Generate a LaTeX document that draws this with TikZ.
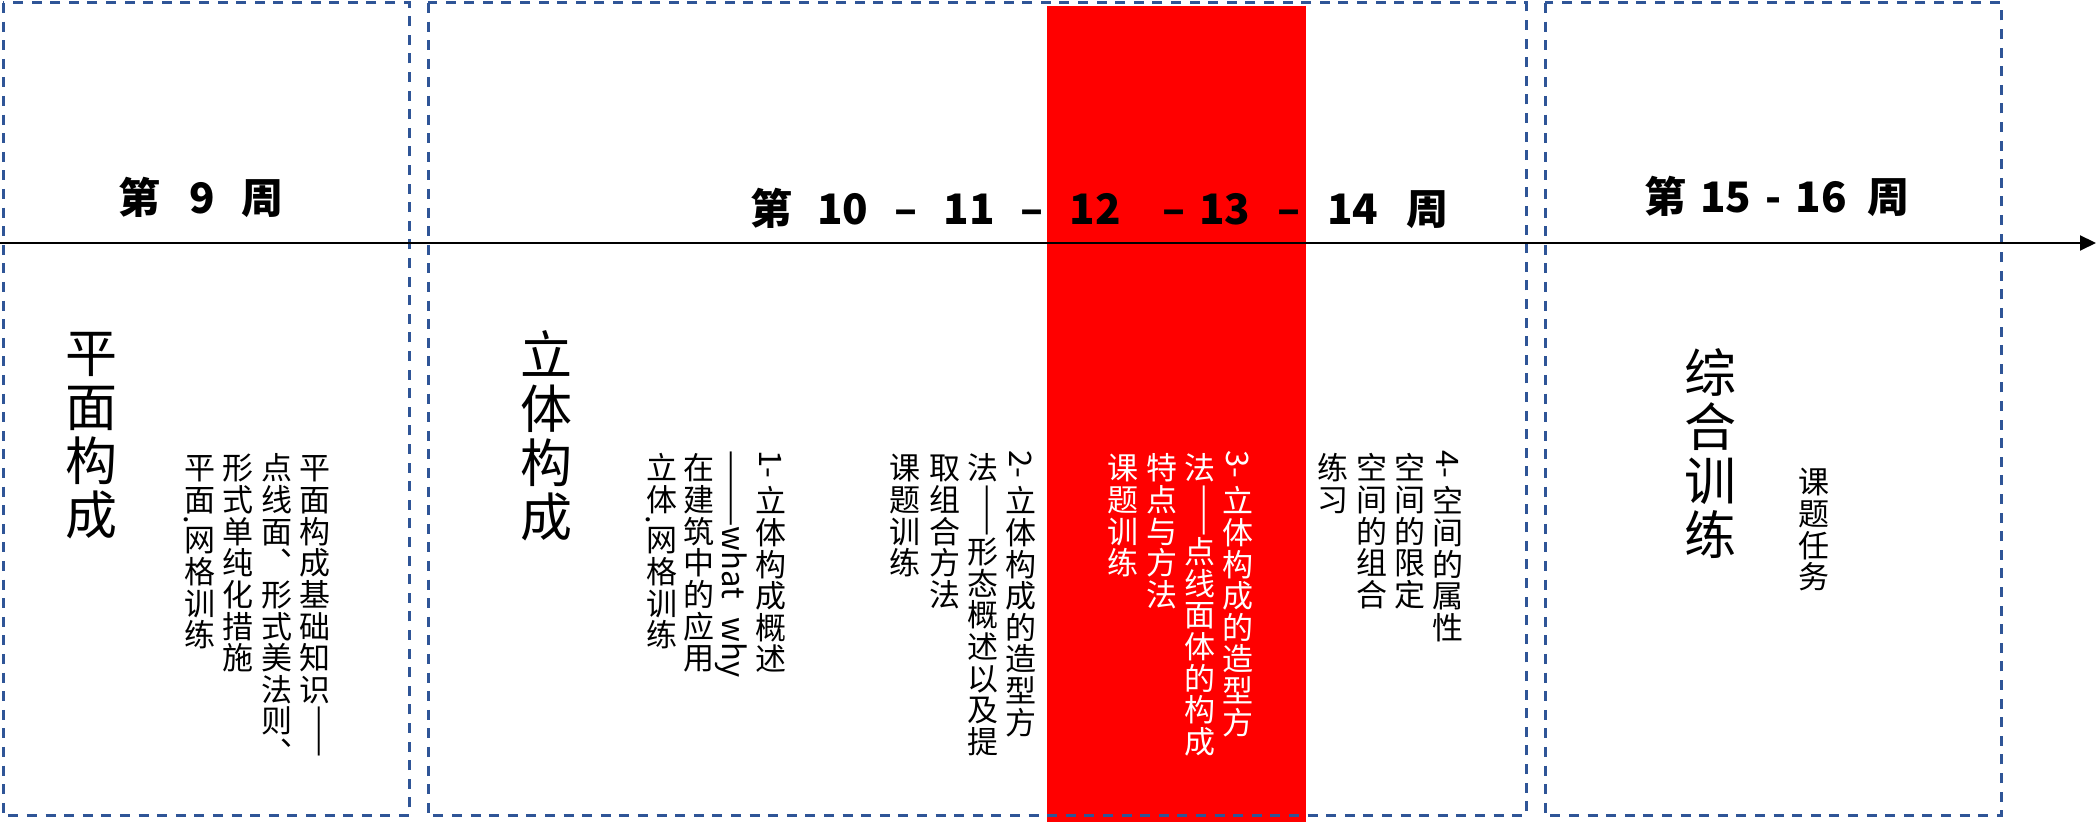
\documentclass[tikz,border=0pt]{standalone}
\usepackage{fontspec}
\setmainfont{Noto Sans CJK SC}
\usepackage{graphicx}
\usetikzlibrary{arrows.meta}
\definecolor{boxblue}{RGB}{47,85,151}
\newlength\pxu
\setlength\pxu{0.5pt}
\newcommand\hs[1]{\hspace*{#1\pxu}}
\def\cstrut{\vrule height .89em depth .13em width 0pt}
\newcommand\lat[1]{\rotatebox{-90}{#1}\let\cstrut\relax}
\newcommand\ldot{\lat{\vrule height 1.2em depth .2em width 0pt.}}
\newcommand\vcol[1]{\vbox{\offinterlineskip\foreach\ch in {#1}{\hbox to 1.2em{\hss\ch\cstrut\hss}}}}
\tikzset{
  dbox/.style={draw=boxblue, line width=1.5pt, dash pattern=on 5pt off 4.3pt},
  vtext/.style={anchor=north, inner sep=0pt, font=\fontsize{15.5pt}{16pt}\selectfont},
  vbig/.style={anchor=north, inner sep=0pt, font=\fontsize{26pt}{27pt}\selectfont\def\cstrut{\vrule height .9em depth .14em width 0pt}},
  wtitle/.style={inner sep=0pt, anchor=base west, font=\fontsize{21pt}{22pt}\selectfont\bfseries},
  axis/.style={draw=black, line width=1pt, -{Triangle[length=8pt,width=7.5pt]}}
}
\begin{document}
\begin{tikzpicture}[x=0.5pt,y=-0.5pt]
\useasboundingbox (0,0) rectangle (2100,822);
% highlighted weeks
\fill[red] (1047,6) rectangle (1306,822);
% dashed frames
\draw[dbox] (3,3) rectangle (409,816);
\draw[dbox] (428,3) rectangle (1526,816);
\draw[dbox] (1545,3) rectangle (2001,816);
% time axis
\coordinate (axl) at (0,243);
\coordinate (axr) at (2096,243);
\draw[axis] (axl) -- (axr);
% titles
\node[wtitle] (t1) at (118,214) {第\hs{29}9\hs{27}周};
\node[wtitle] (t2) at (750,225) {第\hs{25}10\hs{26}–\hs{26}11\hs{26}–\hs{26}12\hs{42}–\hs{13}13\hs{27}–\hs{27}14\hs{28}周};
\node[wtitle] (t3) at (1644,213) {第\hs{14}15\hs{14}-\hs{14}16\hs{21}周};
% big column titles
\node[vbig] (b1) at (91,325) {\vcol{平,面,构,成}};
\node[vbig] (b2) at (546,327) {\vcol{立,体,构,成}};
\node[vbig] (b3) at (1710,345) {\vcol{综,合,训,练}};
% group A
\node[vtext] (a1) at (315,452) {\vcol{平,面,构,成,基,础,知,识,\lat{——}}};
\node[vtext] (a2) at (277,452) {\vcol{点,线,面,︑,形,式,美,法,则,︑}};
\node[vtext] (a3) at (238,452) {\vcol{形,式,单,纯,化,措,施}};
\node[vtext] (a4) at (200,452) {\vcol{平,面,\ldot,网,格,训,练}};
% group B
\node[vtext] (c1) at (771,450) {\vcol{\lat{1- },立,体,构,成,概,述}};
\node[vtext] (c2) at (731,450) {\vcol{\lat{———what\hspace{.6em}why}}};
\node[vtext] (c3) at (699,452) {\vcol{在,建,筑,中,的,应,用}};
\node[vtext] (c4) at (662,452) {\vcol{立,体,\ldot,网,格,训,练}};
% group C
\node[vtext] (d1) at (1021,450) {\vcol{\lat{2- },立,体,构,成,的,造,型,方}};
\node[vtext] (d2) at (983,452) {\vcol{法,\lat{——},形,态,概,述,以,及,提}};
\node[vtext] (d3) at (945,452) {\vcol{取,组,合,方,法}};
\node[vtext] (d4) at (905,452) {\vcol{课,题,训,练}};
% group D (highlighted)
\begin{scope}[every node/.append style={text=white}]
\node[vtext] (e1) at (1238,450) {\vcol{\lat{3- },立,体,构,成,的,造,型,方}};
\node[vtext] (e2) at (1200,452) {\vcol{法,\lat{——},点,线,面,体,的,构,成}};
\node[vtext] (e3) at (1162,452) {\vcol{特,点,与,方,法}};
\node[vtext] (e4) at (1123,452) {\vcol{课,题,训,练}};
\end{scope}
% group E
\node[vtext] (f1) at (1448,450) {\vcol{\lat{4- },空,间,的,属,性}};
\node[vtext] (f2) at (1410,452) {\vcol{空,间,的,限,定}};
\node[vtext] (f3) at (1372,452) {\vcol{空,间,的,组,合}};
\node[vtext] (f4) at (1333,452) {\vcol{练,习}};
% group F
\node[vtext] (g1) at (1814,466) {\vcol{课,题,任,务}};
\end{tikzpicture}
\end{document}
